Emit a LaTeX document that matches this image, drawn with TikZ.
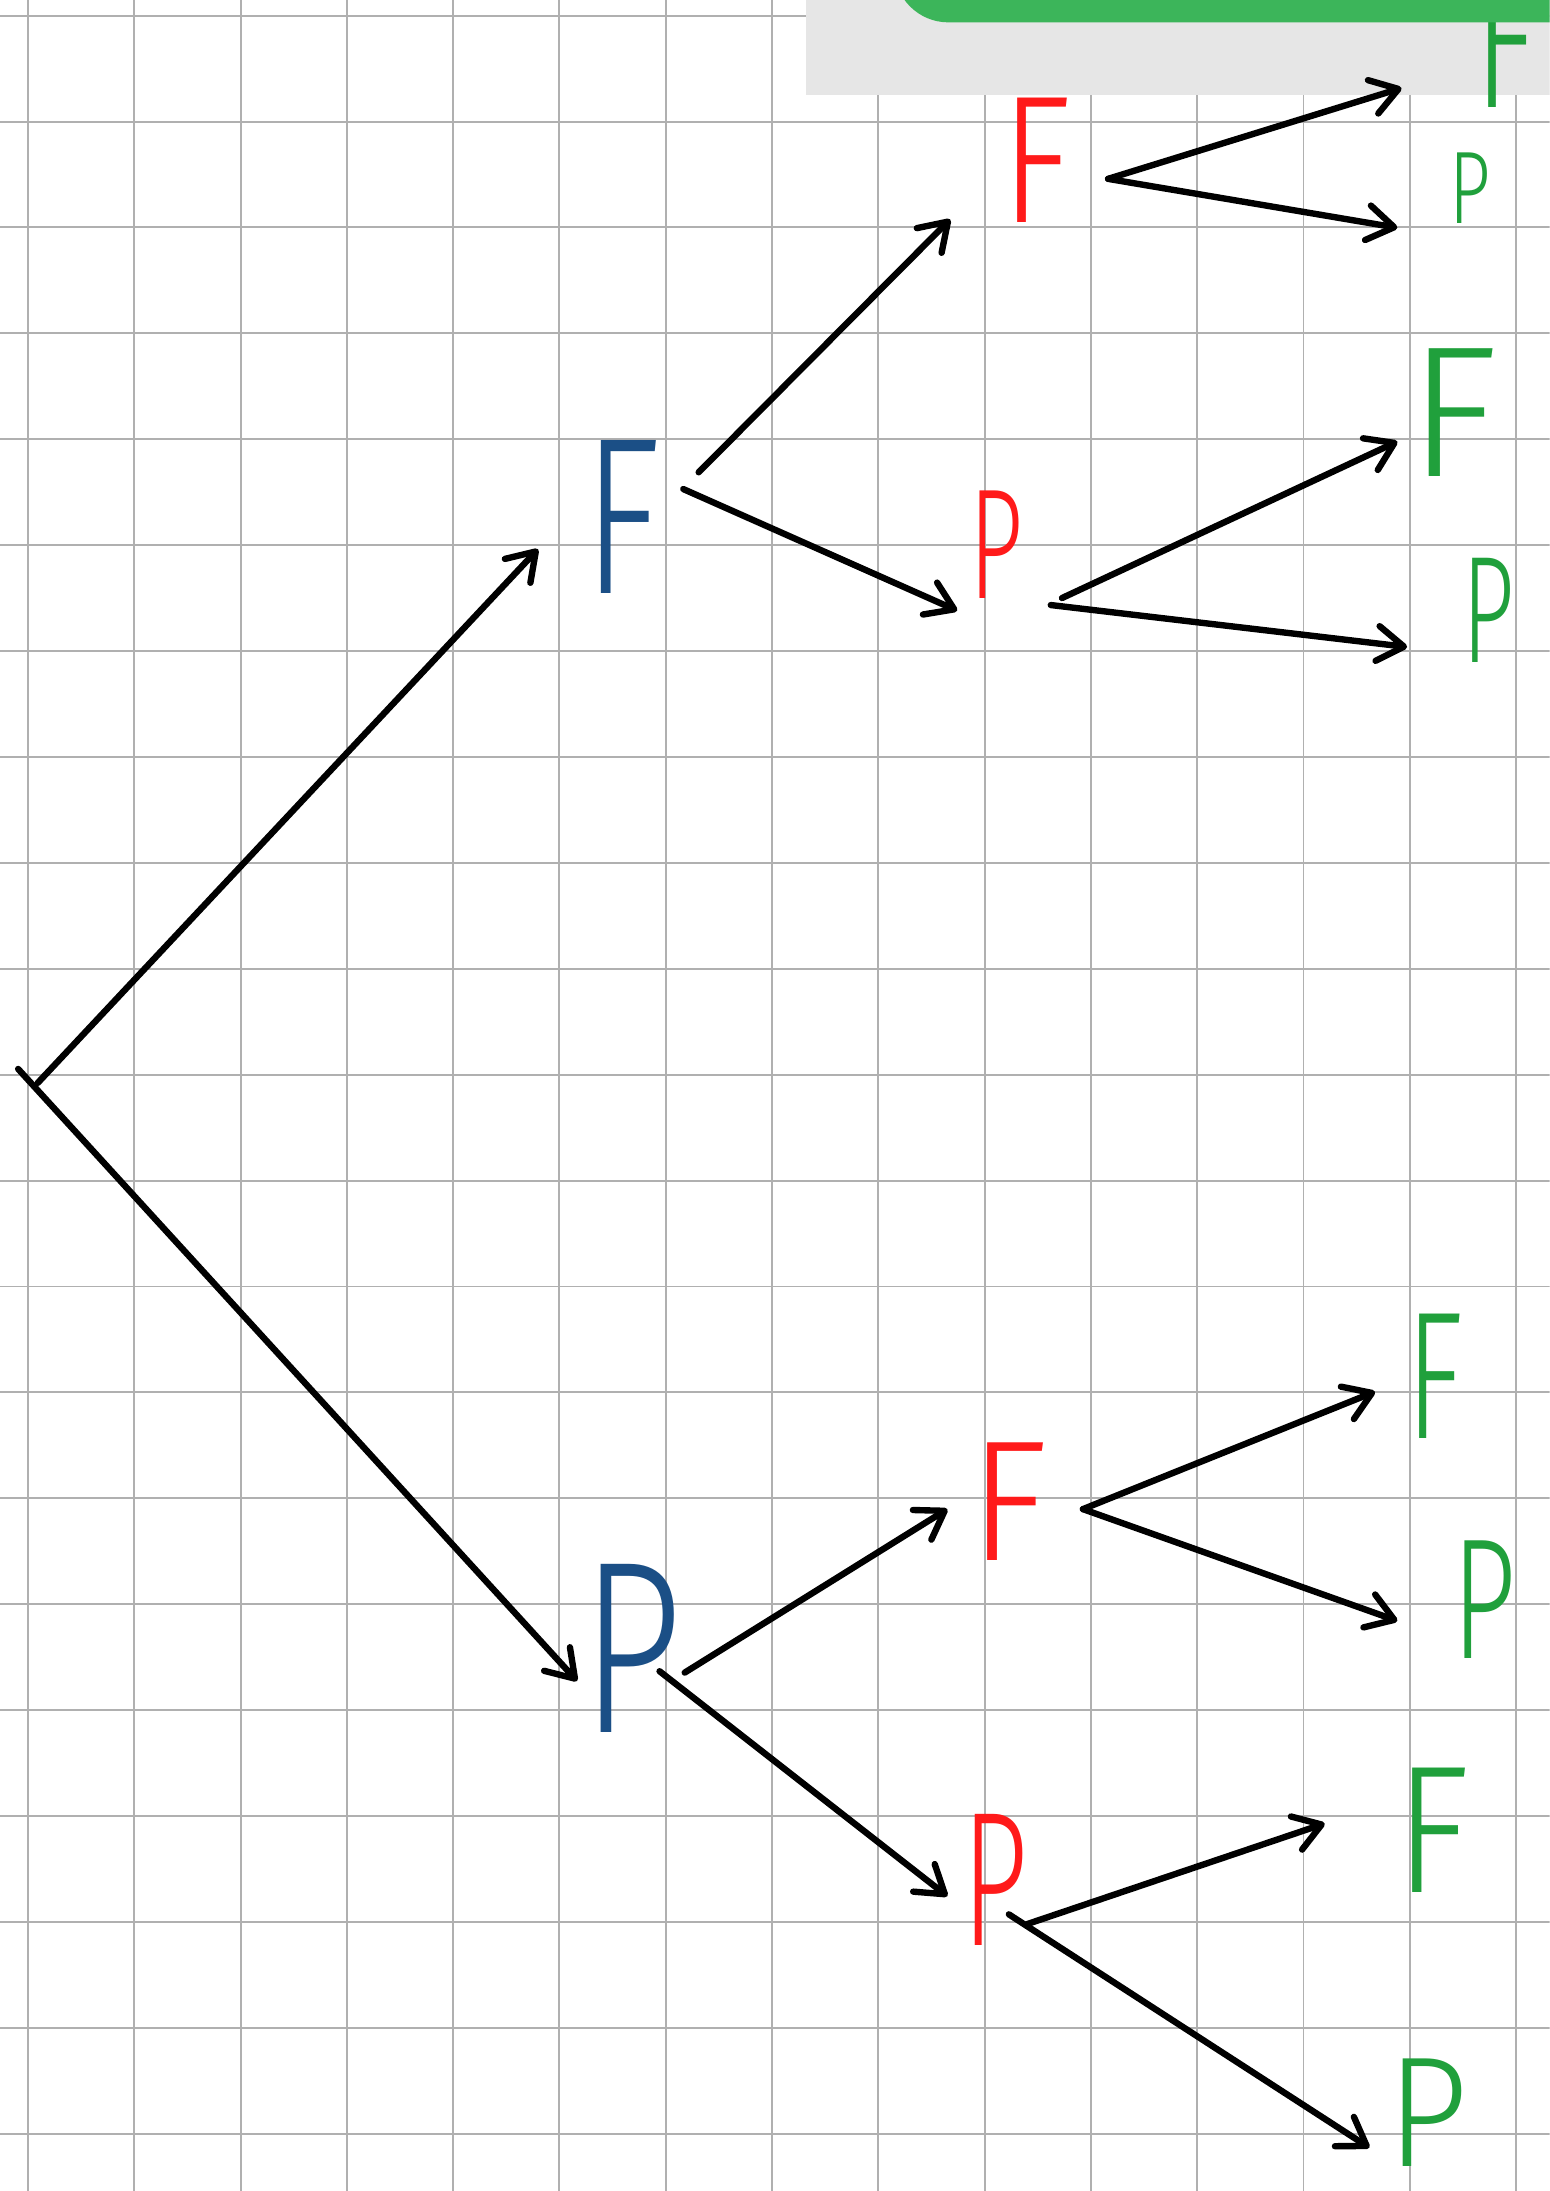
\documentclass[tikz,border=0pt]{standalone}
\usepackage{fontspec}
\usetikzlibrary{arrows.meta,calc}
\newfontfamily\handfont{Fira Sans}[UprightFont = * Light]
\definecolor{gridgray}{HTML}{B0B0B0}
\definecolor{boxgray}{HTML}{E6E6E6}
\definecolor{barGreen}{HTML}{3CB55A}
\definecolor{inkblue}{HTML}{1B4F86}
\definecolor{inkred}{HTML}{FF1A1A}
\definecolor{inkgreen}{HTML}{20A03C}
\tikzset{
  gridline/.style={gridgray, line width=0.8pt},
  arr/.style={line width=2.6pt, line cap=round, line join=round,
    -{Straight Barb[length=3.8mm, width=5mm, line cap=round, line join=round]}},
  lab/.style={inner sep=0pt, font=\handfont\fontsize{#1}{#1}\selectfont}
}
\begin{document}
\begin{tikzpicture}[x=0.02cm, y=-0.02cm]
  \useasboundingbox (0,0) rectangle (1109,1568);
  \clip (0,0) rectangle (1109,1568);
  \fill[white] (0,0) rectangle (1109,1568);
  % squared paper
  \foreach \i in {0,...,14}
    \draw[gridline] ({20+76.07*\i},0) -- ({20+76.07*\i},1568);
  \foreach \j in {0,...,20}
    \draw[gridline] (0,{11.2+75.79*\j}) -- (1109,{11.2+75.79*\j});
  % toolbar in the corner
  \fill[boxgray] (577,0) rectangle (1109,68);

  % root
  \coordinate (R) at (25,775);

  % first throw
  \node[lab=91, inkblue, xscale=0.72] (F1) at (445,370) {F};
  \node[lab=100, inkblue, xscale=0.72] (P1) at (452,1180) {P};

  % second throw
  \node[lab=74, inkred, xscale=0.8] (F2a) at (742,115) {F};
  \node[lab=64, inkred, xscale=0.6] (P2a) at (713,390) {P};
  \node[lab=70, inkred, xscale=0.95] (F2b) at (722,1075) {F};
  \node[lab=78, inkred, xscale=0.6] (P2b) at (712,1345) {P};

  % third throw
  \node[lab=80, inkgreen, xscale=0.65] (F3a) at (1077,29) {F};
  \node[lab=42, inkgreen, xscale=0.7] (P3a) at (1052,135) {P};
  \node[lab=76, inkgreen, xscale=1.0] (F3b) at (1040,295) {F};
  \node[lab=62, inkgreen, xscale=0.6] (P3b) at (1065,437) {P};
  \node[lab=74, inkgreen, xscale=0.65] (F3c) at (1027,985) {F};
  \node[lab=70, inkgreen, xscale=0.65] (P3c) at (1062,1145) {P};
  \node[lab=74, inkgreen, xscale=0.85] (F3d) at (1025,1310) {F};
  \node[lab=64, inkgreen, xscale=0.9] (P3d) at (1022,1512) {P};

  % green bar of the toolbar, over the top letter
  \fill[barGreen, rounded corners=22] (640,-40) rectangle (1150,16);

  % branches
  \draw[arr] ($(R)+(2,0)$) -- ($(F1)+(-60,23)$);
  \draw[arr] ($(R)+(-12,-10)$) -- ($(P1)+(-39,23)$);

  \draw[arr] ($(F1)+(55,-32)$) -- ($(F2a)+(-62,42)$);
  \draw[arr] ($(F1)+(44,-20)$) -- ($(P2a)+(-28,47)$);
  \draw[arr] ($(P1)+(38,17)$) -- ($(F2b)+(-44,5)$);
  \draw[arr] ($(P1)+(20,16)$) -- ($(P2b)+(-34,12)$);

  \draw[arr] ($(F2a)+(51,13)$) -- ($(F3a)+(-74,34)$);
  \draw[arr] ($(F2a)+(51,13)$) -- ($(P3a)+(-52,28)$);
  \draw[arr] ($(P2a)+(47,38)$) -- ($(F3b)+(-40,21)$);
  \draw[arr] ($(P2a)+(39,43)$) -- ($(P3b)+(-58,26)$);
  \draw[arr] ($(F2b)+(53,5)$) -- ($(F3c)+(-43,11)$);
  \draw[arr] ($(F2b)+(53,5)$) -- ($(P3c)+(-62,15)$);
  \draw[arr] ($(P2b)+(23,32)$) -- ($(F3d)+(-77,-5)$);
  \draw[arr] ($(P2b)+(10,25)$) -- ($(P3d)+(-42,25)$);
\end{tikzpicture}
\end{document}
